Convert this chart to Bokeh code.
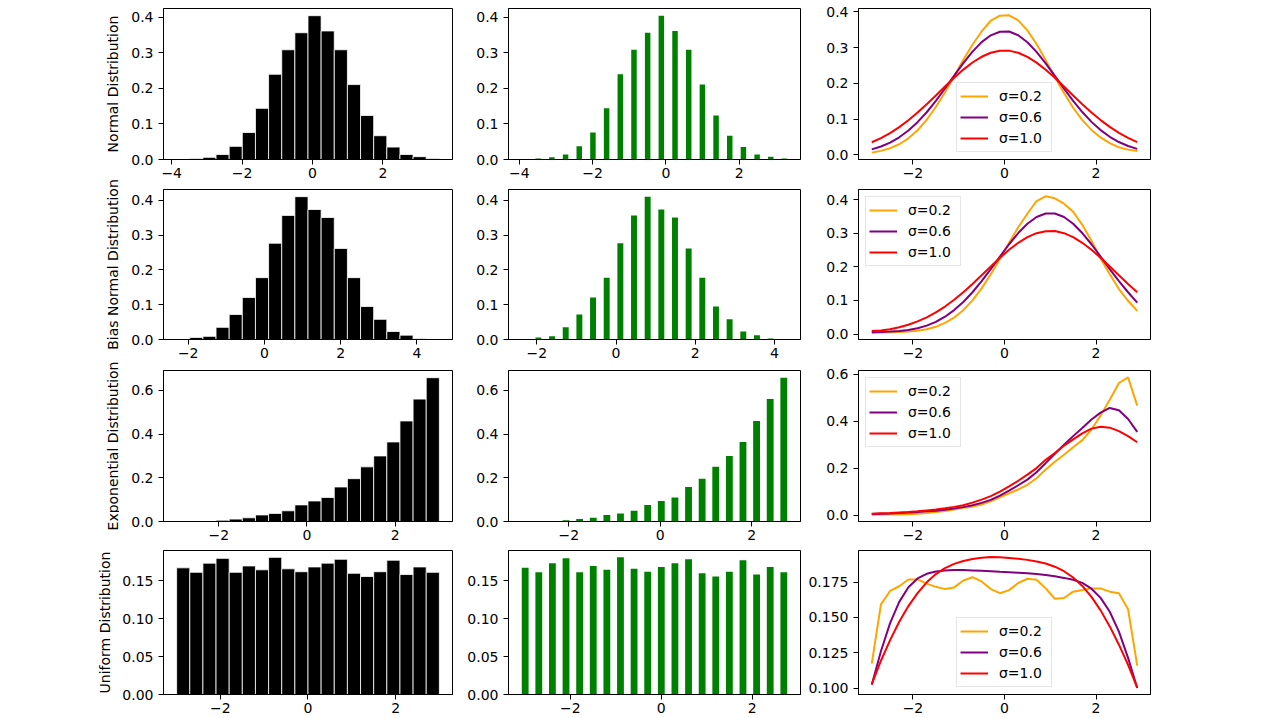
from math import pi
from bokeh.plotting import figure
from bokeh.layouts import gridplot, row
from bokeh.models import Range1d, FixedTicker, CustomJSTickFormatter, Legend, LegendItem
from bokeh.core.properties import value
from bokeh.embed import file_html
from bokeh.resources import INLINE

# ---------------- data ----------------
row_labels = ["Normal Distribution", "Bias Normal Distribution",
              "Exponential Distribution", "Uniform Distribution"]

# histogram bins (20 bins per row): first edge and bin width
bin_start = [-3.86, -2.304, -2.955, -2.995]
bin_width = [0.3733, 0.3447, 0.2979, 0.2996]
np_bar_width = 0.15

hist_normal = [0.001, 0.003, 0.006, 0.014, 0.037, 0.076, 0.144, 0.240, 0.309, 0.357,
               0.405, 0.362, 0.309, 0.211, 0.124, 0.067, 0.035, 0.014, 0.008, 0.003]
hist_bias = [0.0005, 0.006, 0.009, 0.035, 0.072, 0.121, 0.178, 0.277, 0.357, 0.411,
             0.374, 0.351, 0.262, 0.178, 0.095, 0.058, 0.023, 0.0125, 0.003, 0.0008]
hist_exp = [0.0005, 0.001, 0.002, 0.006, 0.011, 0.017, 0.030, 0.037, 0.049, 0.076,
            0.094, 0.110, 0.158, 0.196, 0.250, 0.300, 0.364, 0.460, 0.560, 0.658]
hist_unif = [0.1668, 0.1609, 0.1730, 0.1793, 0.1609, 0.1693, 0.1642, 0.1806, 0.1655, 0.1617,
             0.1680, 0.1730, 0.1781, 0.1596, 0.1554, 0.1617, 0.1768, 0.1580, 0.1680, 0.1609]

x_grid = [-2.9, -2.7, -2.5, -2.3, -2.1, -1.9, -1.7, -1.5, -1.3, -1.1,
          -0.9, -0.7, -0.5, -0.3, -0.1, 0.1, 0.3, 0.5, 0.7, 0.9,
          1.1, 1.3, 1.5, 1.7, 1.9, 2.1, 2.3, 2.5, 2.7, 2.9]

sigma_labels = ["σ=0.2", "σ=0.6", "σ=1.0"]
sigma_colors = ["orange", "purple", "red"]

normal_s02 = [0.0066, 0.0115, 0.0190, 0.0300, 0.0465, 0.0690, 0.0985, 0.1340, 0.1750, 0.2200,
              0.2660, 0.3080, 0.3450, 0.3750, 0.3890, 0.3900, 0.3760, 0.3480, 0.3100, 0.2650,
              0.2180, 0.1730, 0.1320, 0.0975, 0.0700, 0.0490, 0.0330, 0.0215, 0.0150, 0.0110]
normal_s06 = [0.0157, 0.0237, 0.0347, 0.0494, 0.0683, 0.0917, 0.1194, 0.1511, 0.1857, 0.2215,
              0.2566, 0.2886, 0.3153, 0.3343, 0.3443, 0.3448, 0.3345, 0.3150, 0.2880, 0.2560,
              0.2210, 0.1855, 0.1512, 0.1200, 0.0925, 0.0695, 0.0508, 0.0362, 0.0252, 0.0170]
normal_s10 = [0.0357, 0.0472, 0.0612, 0.0778, 0.0970, 0.1184, 0.1418, 0.1664, 0.1914, 0.2158,
              0.2385, 0.2583, 0.2743, 0.2855, 0.2913, 0.2915, 0.2855, 0.2742, 0.2580, 0.2382,
              0.2155, 0.1912, 0.1663, 0.1420, 0.1188, 0.0975, 0.0785, 0.0620, 0.0480, 0.0362]

bias_s02 = [0.0040, 0.0045, 0.0050, 0.0060, 0.0075, 0.0100, 0.0140, 0.0215, 0.0330, 0.0490,
            0.0710, 0.1000, 0.1360, 0.1780, 0.2240, 0.2720, 0.3180, 0.3580, 0.3960, 0.4100,
            0.4040, 0.3880, 0.3640, 0.3250, 0.2780, 0.2250, 0.1780, 0.1340, 0.0990, 0.0690]
bias_s06 = [0.0050, 0.0060, 0.0072, 0.0090, 0.0120, 0.0172, 0.0250, 0.0362, 0.0515, 0.0712,
            0.0955, 0.1244, 0.1574, 0.1934, 0.2307, 0.2673, 0.3007, 0.3284, 0.3483, 0.3587,
            0.3590, 0.3483, 0.3284, 0.3007, 0.2673, 0.2307, 0.1934, 0.1574, 0.1244, 0.0935]
bias_s10 = [0.0090, 0.0105, 0.0145, 0.0202, 0.0278, 0.0375, 0.0496, 0.0643, 0.0818, 0.1020,
            0.1245, 0.1490, 0.1749, 0.2012, 0.2269, 0.2507, 0.2716, 0.2884, 0.3002, 0.3062,
            0.3065, 0.3002, 0.2884, 0.2716, 0.2507, 0.2269, 0.2012, 0.1749, 0.1490, 0.1245]

exp_s02 = [0.0030, 0.0030, 0.0035, 0.0040, 0.0050, 0.0070, 0.0100, 0.0140, 0.0180, 0.0250,
           0.0320, 0.0370, 0.0460, 0.0600, 0.0770, 0.0940, 0.1100, 0.1300, 0.1580, 0.1950,
           0.2280, 0.2580, 0.2900, 0.3200, 0.3650, 0.4250, 0.4920, 0.5630, 0.5870, 0.4670]
exp_s06 = [0.0060, 0.0070, 0.0080, 0.0100, 0.0120, 0.0140, 0.0170, 0.0200, 0.0240, 0.0290,
           0.0350, 0.0430, 0.0530, 0.0660, 0.0840, 0.1050, 0.1280, 0.1520, 0.1830, 0.2220,
           0.2620, 0.3000, 0.3370, 0.3720, 0.4080, 0.4370, 0.4570, 0.4470, 0.4100, 0.3550]
exp_s10 = [0.0070, 0.0090, 0.0100, 0.0120, 0.0140, 0.0170, 0.0210, 0.0250, 0.0300, 0.0360,
           0.0430, 0.0540, 0.0670, 0.0820, 0.1010, 0.1230, 0.1470, 0.1730, 0.2010, 0.2360,
           0.2650, 0.2960, 0.3230, 0.3490, 0.3690, 0.3770, 0.3730, 0.3580, 0.3370, 0.3110]

unif_s02 = [0.1174, 0.1592, 0.1687, 0.1720, 0.1768, 0.1768, 0.1739, 0.1716, 0.1700, 0.1712,
            0.1761, 0.1784, 0.1754, 0.1700, 0.1671, 0.1693, 0.1743, 0.1773, 0.1766, 0.1705,
            0.1632, 0.1637, 0.1682, 0.1693, 0.1705, 0.1705, 0.1682, 0.1671, 0.1558, 0.1160]
unif_s06 = [0.1025, 0.1262, 0.1460, 0.1610, 0.1713, 0.1775, 0.1808, 0.1824, 0.1831, 0.1834,
            0.1834, 0.1832, 0.1829, 0.1826, 0.1822, 0.1819, 0.1816, 0.1812, 0.1806, 0.1799,
            0.1790, 0.1779, 0.1766, 0.1744, 0.1703, 0.1638, 0.1540, 0.1400, 0.1215, 0.1003]
unif_s10 = [0.1030, 0.1195, 0.1340, 0.1470, 0.1580, 0.1672, 0.1748, 0.1806, 0.1848, 0.1878,
            0.1898, 0.1912, 0.1921, 0.1926, 0.1925, 0.1920, 0.1914, 0.1906, 0.1895, 0.1880,
            0.1858, 0.1826, 0.1782, 0.1722, 0.1645, 0.1550, 0.1437, 0.1308, 0.1166, 0.1005]

hist_rows = [hist_normal, hist_bias, hist_exp, hist_unif]
kde_rows = [[normal_s02, normal_s06, normal_s10],
            [bias_s02, bias_s06, bias_s10],
            [exp_s02, exp_s06, exp_s10],
            [unif_s02, unif_s06, unif_s10]]

x_ticks_hist = [[-4, -2, 0, 2], [-2, 0, 2, 4], [-2, 0, 2], [-2, 0, 2]]
x_ticks_kde = [-2, 0, 2]
y_ticks_hist = [[0, 0.1, 0.2, 0.3, 0.4], [0, 0.1, 0.2, 0.3, 0.4], [0, 0.2, 0.4, 0.6], [0, 0.05, 0.10, 0.15]]
y_dec_hist = [1, 1, 1, 2]
y_ticks_kde = [[0, 0.1, 0.2, 0.3, 0.4], [0, 0.1, 0.2, 0.3, 0.4], [0, 0.2, 0.4, 0.6], [0.100, 0.125, 0.150, 0.175]]
y_dec_kde = [1, 1, 1, 3]
legend_loc = ["bottom_center", "top_left", "top_left", "bottom_center"]

# ---------------- layout (pixels) ----------------
label_col_w = 119
col_width = [337, 348, 356]
col_bl = [41, 52, 54]
col_br = [4, 4, 10]
row_height = [183, 181, 181, 173]
row_bt = [8, 6, 6, 5]
row_bb = [24, 25, 24, 24]
FONT = "DejaVu Sans"


def fmt(d):
    return CustomJSTickFormatter(code="return tick.toFixed(%d).replace('-', '\\u2212');" % d)


def make_fig(c, r, xr, yr, xt, yt, yd):
    p = figure(width=col_width[c], height=row_height[r], x_range=xr, y_range=yr,
               output_backend="svg", toolbar_location=None, tools="",
               min_border_left=col_bl[c], min_border_right=col_br[c],
               min_border_top=row_bt[r], min_border_bottom=row_bb[r])
    p.xgrid.visible = False
    p.ygrid.visible = False
    p.outline_line_color = "black"
    p.outline_line_width = 1
    p.outline_line_alpha = 1
    p.background_fill_color = "white"
    p.border_fill_color = "white"
    for ax in (p.xaxis[0], p.yaxis[0]):
        ax.major_tick_in = 0
        ax.major_tick_out = 5
        ax.minor_tick_line_color = None
        ax.major_tick_line_color = "black"
        ax.axis_line_color = "black"
        ax.major_label_text_font = FONT
        ax.major_label_text_font_size = "14px"
        ax.major_label_text_color = "black"
    p.xaxis[0].major_label_standoff = 3
    p.yaxis[0].major_label_standoff = 5
    p.xaxis[0].ticker = FixedTicker(ticks=xt)
    p.xaxis[0].formatter = fmt(0)
    p.yaxis[0].ticker = FixedTicker(ticks=yt)
    p.yaxis[0].formatter = fmt(yd)
    return p


grid = []
for r in range(4):
    h = hist_rows[r]
    a = bin_start[r]
    w = bin_width[r]
    n = len(h)
    lefts = [a + i * w for i in range(n)]
    rights = [a + (i + 1) * w for i in range(n)]
    ytop = max(h) * 1.05

    # column 1: matplotlib-style histogram
    span = rights[-1] - lefts[0]
    p1 = make_fig(0, r, Range1d(lefts[0] - 0.05 * span, rights[-1] + 0.05 * span), Range1d(0, ytop),
                  x_ticks_hist[r], y_ticks_hist[r], y_dec_hist[r])
    p1.quad(left=lefts, right=rights, top=h, bottom=0, fill_color="black",
            line_color="white", line_width=0.8)

    # column 2: numpy histogram drawn as narrow bars at the left bin edges
    lo = lefts[0] - np_bar_width / 2
    hi = lefts[-1] + np_bar_width / 2
    s2 = hi - lo
    p2 = make_fig(1, r, Range1d(lo - 0.05 * s2, hi + 0.05 * s2), Range1d(0, ytop),
                  x_ticks_hist[r], y_ticks_hist[r], y_dec_hist[r])
    p2.vbar(x=lefts, width=np_bar_width, top=h, bottom=0, fill_color="green", line_color=None)

    # column 3: smoothed densities
    curves = kde_rows[r]
    allv = [v for cv in curves for v in cv]
    vmin, vmax = min(allv), max(allv)
    vs = vmax - vmin
    xs = x_grid[-1] - x_grid[0]
    p3 = make_fig(2, r, Range1d(x_grid[0] - 0.05 * xs, x_grid[-1] + 0.05 * xs),
                  Range1d(vmin - 0.05 * vs, vmax + 0.05 * vs),
                  x_ticks_kde, y_ticks_kde[r], y_dec_kde[r])
    items = []
    for cv, col, lab in zip(curves, sigma_colors, sigma_labels):
        rr = p3.line(x_grid, cv, line_color=col, line_width=2)
        items.append(LegendItem(label=lab, renderers=[rr]))
    leg = Legend(items=items, location=legend_loc[r], margin=7, padding=3, spacing=1,
                 label_text_font=FONT, label_text_font_size="14px", label_text_color="black",
                 label_height=20, glyph_height=20, glyph_width=28, label_standoff=11,
                 label_width=49, border_line_color="#cccccc", border_line_width=1,
                 background_fill_color="white", background_fill_alpha=0.8)
    p3.add_layout(leg)

    grid.append([p1, p2, p3])

# column of row labels (y-axis titles), laid out in page pixels
total_h = sum(row_height)
row_tops = [sum(row_height[:i]) for i in range(4)]
frame_h = [row_height[i] - row_bt[i] - row_bb[i] for i in range(4)]
label_y = [row_tops[i] + row_bt[i] + frame_h[i] / 2 for i in range(4)]
label_x = [112, 112, 112, 104]

lab_fig = figure(width=label_col_w, height=total_h, x_range=Range1d(0, label_col_w),
                 y_range=Range1d(total_h, 0), output_backend="svg", toolbar_location=None,
                 tools="", min_border=0, x_axis_location=None, y_axis_location=None)
lab_fig.outline_line_color = None
lab_fig.xgrid.visible = False
lab_fig.ygrid.visible = False
lab_fig.text(x=label_x, y=label_y, text=row_labels, angle=pi / 2, text_align="center",
             text_baseline="middle", text_font=value(FONT), text_font_size=value("14px"),
             text_color="black")

layout = row(lab_fig, gridplot(grid, toolbar_location=None))

with open("out.html", "w", encoding="utf-8") as f:
    f.write(file_html(layout, INLINE))
